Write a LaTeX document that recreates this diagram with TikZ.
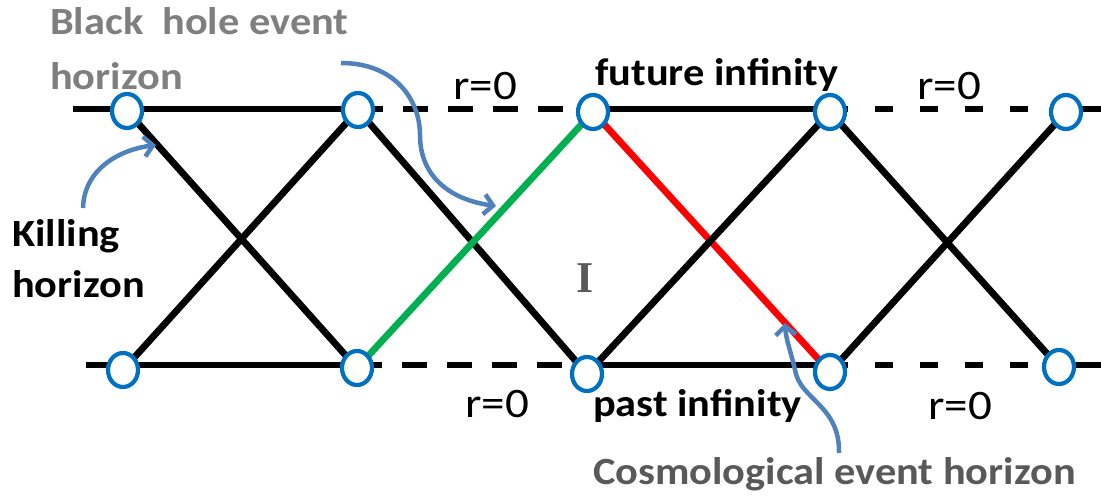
\documentclass[tikz,border=0pt]{standalone}
\usepackage{fontspec}
\setmainfont{Carlito}
\newfontfamily\lblfont[FakeStretch=1.1]{Carlito}
\newfontfamily\rfont[FakeStretch=1.12]{Carlito}
\newfontfamily\romfont{Liberation Serif}
\usetikzlibrary{shapes.geometric,arrows.meta,backgrounds}
\definecolor{pblue}{HTML}{0070C0}
\definecolor{abl}{HTML}{4F81BD}
\definecolor{pgreen}{HTML}{00B050}
\definecolor{pred}{HTML}{FF0000}
\definecolor{lgray}{HTML}{7F7F7F}
\definecolor{dgray}{HTML}{595959}
\begin{document}
\begin{tikzpicture}[x=1pt,y=-1pt,
  pnode/.style={ellipse,draw=pblue,line width=4.2pt,fill=white,minimum width=30pt,minimum height=34pt,inner sep=0pt},
  wl/.style={line width=6.8pt,line cap=butt},
  dA/.style={wl,dash pattern=on 25pt off 20pt},
  dB/.style={wl,dash pattern=on 18pt off 27pt},
  lbl/.style={anchor=base west,inner sep=0pt,font=\lblfont\bfseries\fontsize{38.5}{44}\selectfont},
  rl/.style={anchor=base west,inner sep=0pt,font=\rfont\fontsize{42}{48}\selectfont},
  arr/.style={draw=abl,line width=4.5pt,-{Straight Barb[length=9pt,width=20pt]}}
]
\useasboundingbox (0,0) rectangle (1101,502);

% vertices
\node[pnode] (T1) at (127,111) {};
\node[pnode] (T2) at (358,110) {};
\node[pnode] (T3) at (593,112) {};
\node[pnode] (T4) at (830,112) {};
\node[pnode] (T5) at (1066,112) {};
\node[pnode] (B1) at (123,370) {};
\node[pnode] (B2) at (357,368) {};
\node[pnode] (B3) at (587,374) {};
\node[pnode] (B4) at (830,372) {};
\node[pnode] (B5) at (1059,367) {};

\begin{pgfonlayer}{background}
\coordinate (TL) at (73,109);
\coordinate (TR) at (1101,109);
\coordinate (BL) at (86,365);
\coordinate (BR) at (1101,365);
\draw[wl] (TL) -- (T2 |- TL);
\draw[dA] (T2 |- TL) -- (T3 |- TL);
\draw[wl] (T3 |- TL) -- (T4 |- TL);
\draw[dB] (T4 |- TL) -- (T5 |- TL);
\draw[wl] (T5 |- TL) -- (TR);
\draw[wl] (BL) -- (B2 |- BL);
\draw[dA] (B2 |- BL) -- (B3 |- BL);
\draw[wl] (B3 |- BL) -- (B4 |- BL);
\draw[dB] (B4 |- BL) -- (B5 |- BL);
\draw[wl] (B5 |- BL) -- (BR);
\draw[wl] (T1.center) -- (B2.center);
\draw[wl] (T2.center) -- (B1.center);
\draw[wl] (T2.center) -- (B3.center);
\draw[wl,pgreen] (B2.center) -- (T3.center);
\draw[wl,pred] (T3.center) -- (B4.center);
\draw[wl] (T4.center) -- (B3.center);
\draw[wl] (T4.center) -- (B5.center);
\draw[wl] (T5.center) -- (B4.center);
\end{pgfonlayer}

% labels
\node[lbl,text=lgray] (bh1) at (50,35) {Black \ hole event};
\node[lbl,text=lgray] (bh2) at (50,90) {horizon};
\node[lbl] (fi) at (595,86) {future infinity};
\node[lbl] (pi) at (593,417) {past infinity};
\node[lbl] (k1) at (12,247) {Killing};
\node[lbl] (k2) at (12,298) {horizon};
\node[lbl,text=dgray] (ce) at (593,485) {Cosmological event horizon};
\node[rl] (r1) at (453,100) {r=0};
\node[rl] (r2) at (917,100) {r=0};
\node[rl] (r3) at (465,418) {r=0};
\node[rl] (r4) at (928,420) {r=0};
\node[inner sep=0pt,text=dgray,font=\romfont\bfseries\fontsize{44}{50}\selectfont] (reg) at (585,278) {I};

% pointer arrows
\coordinate (a1s) at (341,63);
\coordinate (a1e) at (496,206);
\coordinate (a2s) at (83,208);
\coordinate (a2e) at (156,145);
\coordinate (a3s) at (839,453);
\coordinate (a3e) at (785,323);
\draw[arr] (a1s) .. controls (395,63) and (420,100) .. (420,135) .. controls (420,178) and (452,200) .. (a1e);
\draw[arr] (a2s) .. controls (84,170) and (118,150) .. (a2e);
\draw[arr] (a3s) .. controls (840,405) and (800,400) .. (795,370) .. controls (791,352) and (786,340) .. (a3e);
\end{tikzpicture}
\end{document}
